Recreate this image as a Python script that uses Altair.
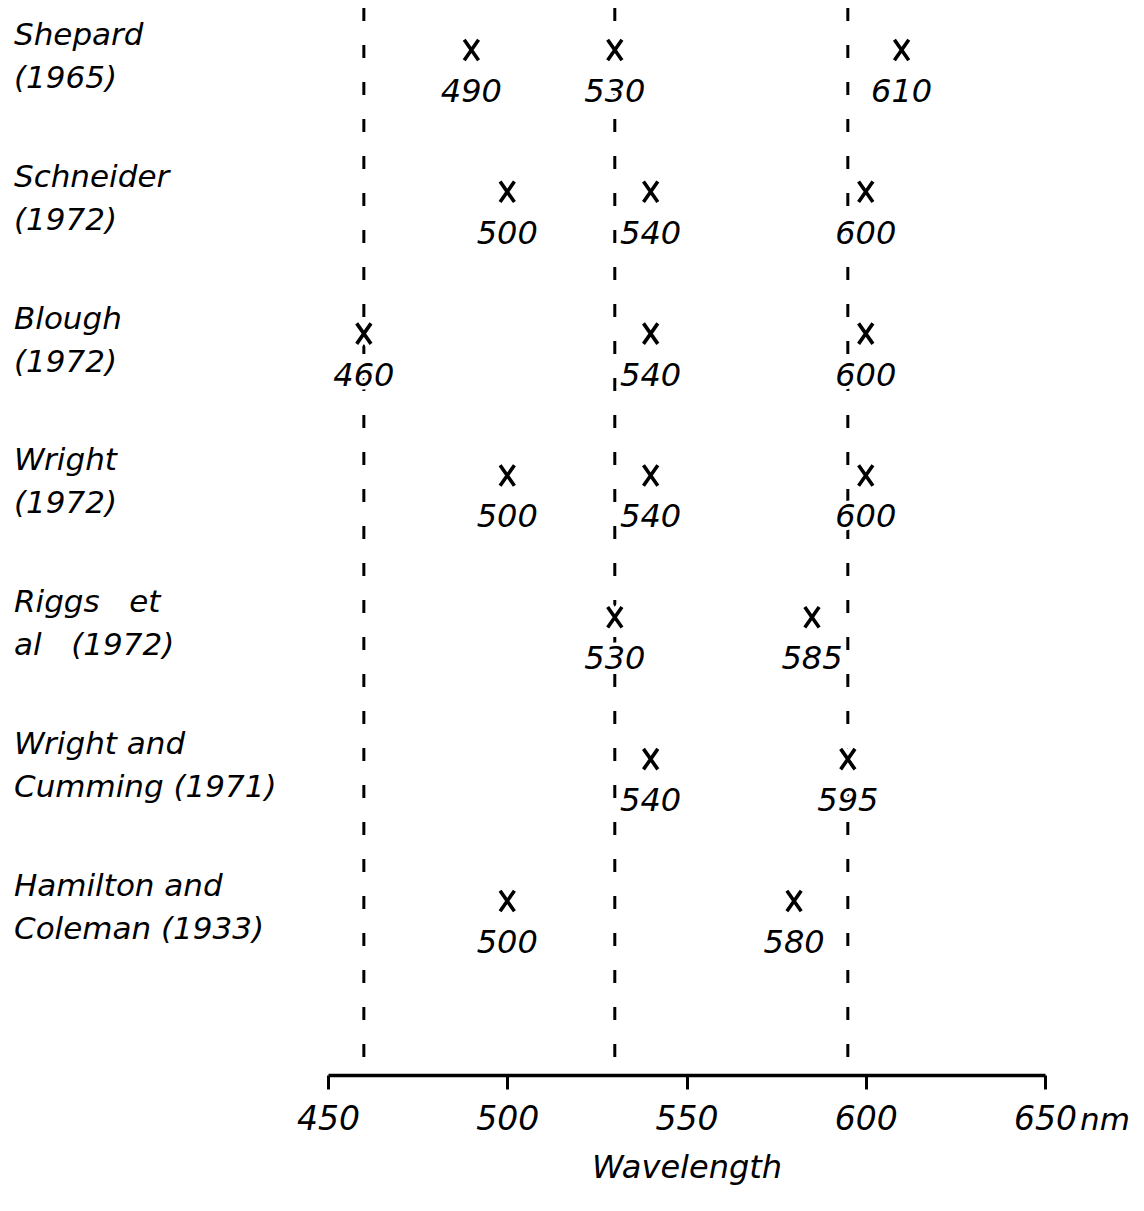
import altair as alt
import pandas as pd

# ---- data ----
study_line1 = ["Shepard", "Schneider", "Blough", "Wright", "Riggs\u00a0\u00a0\u00a0et",
               "Wright and", "Hamilton and"]
study_line2 = ["(1965)", "(1972)", "(1972)", "(1972)", "al\u00a0\u00a0\u00a0(1972)",
               "Cumming (1971)", "Coleman (1933)"]
study_peaks = [
    [490, 530, 610],
    [500, 540, 600],
    [460, 540, 600],
    [500, 540, 600],
    [530, 585],
    [540, 595],
    [500, 580],
]
reference_lines = [460, 530, 595]
tick_values = [450, 500, 550, 600, 650]

rows = []
for i, peaks in enumerate(study_peaks):
    for p in peaks:
        rows.append({"row": i, "wl": p, "lab": str(p)})
peaks_df = pd.DataFrame(rows)
studies_df = pd.DataFrame({"row": list(range(len(study_line1))),
                           "l1": study_line1, "l2": study_line2})
ref_df = pd.DataFrame({"wl": reference_lines})
nm_df = pd.DataFrame({"wl": [650], "t": ["nm"]})

FONT = "DejaVu Sans"
W, H = 717, 1067
XSHAPE = "M-0.7,-1L0.7,1M0.7,-1L-0.7,1"

xscale = alt.Scale(domain=[450, 650], nice=False, zero=False)
yscale = alt.Scale(domain=[-0.296, 7.227], reverse=True, nice=False, zero=False)

xaxis = alt.Axis(values=tick_values, grid=False, domainWidth=3.5, domainColor="black",
                 tickWidth=3, tickColor="black", tickSize=14, labelFont=FONT,
                 labelFontStyle="italic", labelFontSize=33, labelColor="black",
                 labelPadding=14, title="Wavelength", titleFont=FONT,
                 titleFontStyle="italic", titleFontWeight="normal", titleFontSize=32,
                 titleColor="black", titlePadding=16, labelFlush=False)

X = alt.X("wl:Q", scale=xscale)
Y = alt.Y("row:Q", scale=yscale, axis=None)

rules = alt.Chart(ref_df).mark_rule(color="black", strokeWidth=3,
                                    strokeDash=[13, 24]).encode(
    x=alt.X("wl:Q", scale=xscale, axis=xaxis))

# white halos so the dashed guides break around marks and labels
halo_marks = alt.Chart(peaks_df).mark_point(
    shape=XSHAPE, size=400, strokeWidth=12, filled=False, color="white", opacity=1
).encode(x=X, y=Y)

halo_vals = alt.Chart(peaks_df).mark_text(
    font=FONT, fontStyle="italic", fontSize=32, dy=42, color="white",
    stroke="white", strokeWidth=7, baseline="middle", align="center"
).encode(x=X, y=Y, text="lab:N")

marks = alt.Chart(peaks_df).mark_point(
    shape=XSHAPE, size=420, strokeWidth=3.6, filled=False, color="black", opacity=1
).encode(x=X, y=Y)

vals = alt.Chart(peaks_df).mark_text(
    font=FONT, fontStyle="italic", fontSize=32, dy=42, color="black",
    baseline="middle", align="center"
).encode(x=X, y=Y, text="lab:N")

lab1 = alt.Chart(studies_df).mark_text(
    font=FONT, fontStyle="italic", fontSize=31, dy=-14, color="black",
    baseline="middle", align="left"
).encode(x=alt.value(-314), y=Y, text="l1:N")

lab2 = alt.Chart(studies_df).mark_text(
    font=FONT, fontStyle="italic", fontSize=31, dy=29, color="black",
    baseline="middle", align="left"
).encode(x=alt.value(-314), y=Y, text="l2:N")

nm = alt.Chart(nm_df).mark_text(
    font=FONT, fontStyle="italic", fontSize=31, color="black",
    baseline="alphabetic", align="left", dx=35
).encode(x=X, y=alt.value(H + 55), text="t:N")

chart = alt.layer(rules, halo_marks, halo_vals, marks, vals, lab1, lab2, nm).properties(
    width=W, height=H,
    autosize=alt.AutoSizeParams(type="none"),
    padding={"left": 320, "top": 0, "right": 88, "bottom": 125},
).configure(background="white").configure_view(stroke=None, strokeWidth=0)

chart.save("out.html", embed_options={"renderer": "svg", "actions": False})
